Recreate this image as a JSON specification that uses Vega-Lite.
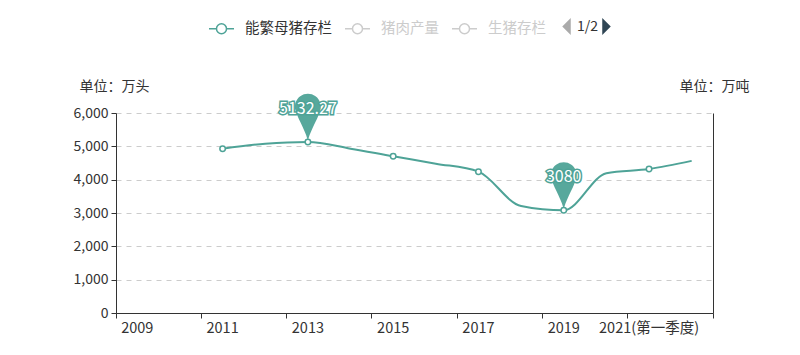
{
  "$schema": "https://vega.github.io/schema/vega-lite/v6.json",
  "width": 597,
  "height": 200,
  "autosize": {"type": "none"},
  "padding": {"left": 116, "top": 113, "right": 87, "bottom": 42},
  "background": "white",
  "config": {
    "view": {"stroke": null},
    "font": "Noto Sans CJK SC",
    "axis": {
      "labelFont": "Noto Sans CJK SC",
      "labelFontSize": 14,
      "labelColor": "#333333",
      "domainColor": "#333333",
      "tickColor": "#333333",
      "titleFont": "Noto Sans CJK SC",
      "titleFontSize": 14,
      "titleFontWeight": "normal",
      "titleColor": "#333333"
    },
    "axisY": {"tickSize": 5, "labelPadding": 3, "gridDash": [5, 5], "gridColor": "#cccccc"},
    "legend": {"labelFont": "Noto Sans CJK SC", "labelFontSize": 14.5}
  },
  "datasets": {
    "sow": [
      {"year": "2011", "value": 4930, "series": "能繁母猪存栏"},
      {"year": "2012", "value": 5078, "series": "能繁母猪存栏"},
      {"year": "2013", "value": 5132.27, "series": "能繁母猪存栏"},
      {"year": "2014", "value": 4930, "series": "能繁母猪存栏"},
      {"year": "2015", "value": 4700, "series": "能繁母猪存栏"},
      {"year": "2016", "value": 4480, "series": "能繁母猪存栏"},
      {"year": "2017", "value": 4240, "series": "能繁母猪存栏"},
      {"year": "2018", "value": 3210, "series": "能繁母猪存栏"},
      {"year": "2019", "value": 3080, "series": "能繁母猪存栏"},
      {"year": "2020", "value": 4195, "series": "能繁母猪存栏"},
      {"year": "2021(第一季度)", "value": 4320, "series": "能繁母猪存栏"},
      {"year": "2021(第二季度)", "value": 4564, "series": "能繁母猪存栏"}
    ],
    "pager": [{"pager": "1/2", "next": "下一页"}]
  },
  "layer": [
    {
      "layer": [
        {
          "data": {"name": "sow"},
          "mark": {"type": "line", "interpolate": "monotone", "strokeWidth": 2},
          "encoding": {
            "x": {
              "field": "year", "type": "ordinal", "sort": null, "bandPosition": 0.5,
              "scale": {"type": "band", "paddingInner": 0, "paddingOuter": 0,
                "domain": ["2009","2010","2011","2012","2013","2014","2015","2016","2017","2018","2019","2020","2021(第一季度)","2021(第二季度)"]},
              "axis": {
                "orient": "bottom",
                "values": ["2009","2011","2013","2015","2017","2019","2021(第一季度)"],
                "bandPosition": 0, "title": null, "labelAngle": 0, "tickSize": 5, "labelPadding": 3,
                "grid": false, "labelBaseline": "top", "labelAlign": "center", "labelFontSize": 14.5
              }
            },
            "y": {
              "field": "value", "type": "quantitative",
              "scale": {"domain": [0, 6000], "nice": false, "zero": true},
              "axis": {"grid": true, "values": [0, 1000, 2000, 3000, 4000, 5000, 6000], "labelExpr": "format(datum.value, ',')",
                "title": "单位：万头", "titleAngle": 0, "titleX": -2, "titleY": -27,
                "titleAlign": "center", "titleBaseline": "middle"}
            },
            "color": {
              "field": "series", "type": "nominal",
              "scale": {"domain": ["能繁母猪存栏", "猪肉产量", "生猪存栏"], "range": ["#4ea397", "#cccccc", "#cccccc"]},
              "legend": {
                "orient": "none", "legendX": 92, "legendY": -98, "direction": "horizontal", "title": null,
                "symbolType": "M-1,0L-0.4,0M0.4,0L1,0M0.4,0A0.4,0.4 0 1 1 -0.4,0A0.4,0.4 0 1 1 0.4,0",
                "symbolSize": 625, "symbolStrokeWidth": 1.5, "symbolFillColor": "white",
                "labelFontSize": 14.5, "labelOffset": 10, "columnPadding": 10, "padding": 0,
                "labelColor": "#333333",
                "encode": {"labels": {"update": {"fill": {"signal": "datum.value === '能繁母猪存栏' ? '#333333' : '#cccccc'"}}}}
              }
            }
          }
        },
        {
          "data": {"name": "sow"},
          "transform": [{"filter": {"field": "year", "oneOf": ["2013", "2019"]}}],
          "mark": {"type": "point", "filled": true, "fill": "#4ea397", "opacity": 0.95, "strokeWidth": 0,
            "shape": "M0,0C-0.05,-0.6 -0.7,-1.63 -0.95,-2.39A1,1 0 1 1 0.95,-2.39C0.7,-1.63 0.05,-0.6 0,0Z",
            "size": 676},
          "encoding": {
            "x": {"field": "year", "type": "ordinal", "sort": null, "bandPosition": 0.5, "axis": null},
            "y": {"field": "value", "type": "quantitative", "axis": {"grid": true, "values": [0, 1000, 2000, 3000, 4000, 5000, 6000], "labelExpr": "format(datum.value, ',')", "title": "单位：万头"}}
          }
        },
        {
          "data": {"name": "sow"},
          "transform": [{"filter": {"field": "year", "oneOf": ["2011","2013","2015","2017","2019","2021(第一季度)"]}}],
          "mark": {"type": "point", "filled": true, "fill": "white", "stroke": "#4ea397", "strokeWidth": 1.5, "size": 30, "opacity": 1},
          "encoding": {
            "x": {"field": "year", "type": "ordinal", "sort": null, "bandPosition": 0.5,
              "axis": {"orient": "bottom", "values": ["2021(第二季度)"], "bandPosition": 1, "labels": false,
                "domain": false, "ticks": true, "tickSize": 5, "grid": false, "title": null}},
            "y": {"field": "value", "type": "quantitative", "axis": {"grid": true, "values": [0, 1000, 2000, 3000, 4000, 5000, 6000], "labelExpr": "format(datum.value, ',')", "title": "单位：万头"}}
          }
        },
        {
          "data": {"name": "sow"},
          "transform": [{"filter": {"field": "year", "oneOf": ["2013", "2019"]}}],
          "mark": {"type": "text", "dy": -33, "fontSize": 16, "font": "Noto Sans CJK SC", "baseline": "middle", "align": "center",
            "fill": "#4ea397", "stroke": "#4ea397", "strokeWidth": 3},
          "encoding": {
            "x": {"field": "year", "type": "ordinal", "sort": null, "bandPosition": 0.5, "axis": null},
            "y": {"field": "value", "type": "quantitative", "axis": {"grid": true, "values": [0, 1000, 2000, 3000, 4000, 5000, 6000], "labelExpr": "format(datum.value, ',')", "title": "单位：万头"}},
            "text": {"field": "value", "type": "nominal"}
          }
        },
        {
          "data": {"name": "sow"},
          "transform": [{"filter": {"field": "year", "oneOf": ["2013", "2019"]}}],
          "mark": {"type": "text", "dy": -33, "fontSize": 16, "font": "Noto Sans CJK SC", "baseline": "middle", "align": "center", "fill": "white"},
          "encoding": {
            "x": {"field": "year", "type": "ordinal", "sort": null, "bandPosition": 0.5, "axis": null},
            "y": {"field": "value", "type": "quantitative", "axis": {"grid": true, "values": [0, 1000, 2000, 3000, 4000, 5000, 6000], "labelExpr": "format(datum.value, ',')", "title": "单位：万头"}},
            "text": {"field": "value", "type": "nominal"}
          }
        }
      ],
      "resolve": {"axis": {"x": "independent"}}
    },
    {
      "data": {"name": "pager"},
      "mark": {"type": "point", "filled": true, "fill": "#aaaaaa", "size": 0, "strokeWidth": 0},
      "encoding": {
        "y": {"datum": 0, "type": "quantitative",
          "axis": {"orient": "right", "title": "单位：万吨", "labels": false, "ticks": false, "grid": false, "domain": true,
            "values": [], "titleAngle": 0, "titleX": 1, "titleY": -27, "titleAlign": "center", "titleBaseline": "middle"}},
        "shape": {"field": "pager", "type": "nominal",
          "scale": {"range": ["M0.5,-1L-0.5,0L0.5,1Z"]},
          "legend": {"orient": "none", "legendX": 442, "legendY": -95, "title": null, "symbolSize": 289,
            "symbolFillColor": "#aaaaaa", "symbolStrokeWidth": 0, "symbolOpacity": 1,
            "labelOffset": 2, "labelFontSize": 14, "labelColor": "#333333", "padding": 0}}
      }
    },
    {
      "data": {"name": "pager"},
      "mark": {"type": "point", "filled": true, "fill": "#2f4554", "size": 0, "strokeWidth": 0},
      "encoding": {
        "strokeDash": {"field": "next", "type": "nominal",
          "scale": {"range": [[1, 0]]},
          "legend": {"orient": "none", "legendX": 482, "legendY": -95, "title": null, "symbolSize": 289,
            "symbolType": "M-0.5,-1L0.5,0L-0.5,1Z",
            "symbolFillColor": "#2f4554", "symbolStrokeWidth": 0, "symbolOpacity": 1,
            "labelExpr": "''", "labelOffset": 0, "padding": 0}}
      }
    }
  ],
  "resolve": {"scale": {"y": "independent"}}
}
